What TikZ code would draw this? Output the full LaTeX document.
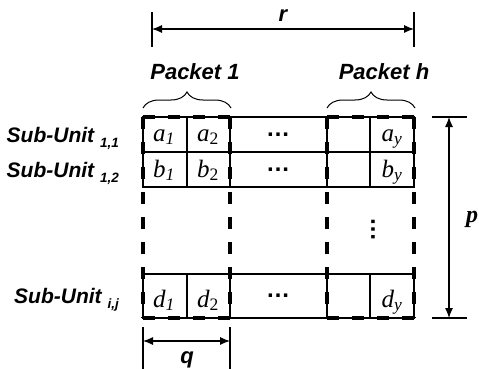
\documentclass[tikz,border=0pt]{standalone}
\usepackage{fontspec}
\setmainfont{Liberation Serif}
\newfontfamily\arialf{Liberation Sans}
\usetikzlibrary{arrows.meta,decorations.pathreplacing}
\begin{document}
\begin{tikzpicture}[x=1pt,y=-1pt,
  gridline/.style={line width=1.1pt},
  pkt/.style={line width=3.3pt, dash pattern=on 12pt off 13pt},
  dimline/.style={line width=1.1pt, {Latex[length=10pt,width=8pt]}-{Latex[length=10pt,width=8pt]}},
  tick/.style={line width=1.4pt},
  lbl/.style={inner sep=0pt, font=\arialf\bfseries\itshape\fontsize{22}{24}\selectfont},
  rowlbl/.style={inner sep=0pt, anchor=base east, font=\arialf\bfseries\itshape\fontsize{21}{24}\selectfont},
  cell/.style={inner sep=0pt, anchor=base, font=\itshape\fontsize{25}{28}\selectfont},
  dots/.style={inner sep=0pt, font=\arialf\bfseries\fontsize{24}{26}\selectfont},
  bracestyle/.style={line width=1pt, decorate, decoration={brace, amplitude=16pt}},
]
\useasboundingbox (0,0) rectangle (479,369);

% rows
\foreach \t/\b in {117/152,152/187,274/318}{
  \draw[gridline] (143,\t) rectangle (414,\b);
  \foreach \x in {187,230,327,370} \draw[gridline] (\x,\t) -- (\x,\b);
}

% packet boxes (thick dashed)
\foreach \l/\r in {143/230,327/414}{
  \draw[pkt] (\l,117) -- (\r,117);
  \draw[pkt] (\l,318) -- (\r,318);
  \draw[pkt] (\l,117) -- (\l,318);
  \draw[pkt] (\r,117) -- (\r,318);
}

% cell texts
\node[cell] (a1) at (164,141) {a\textsubscript{1}};
\node[cell] (a2) at (208,141) {a\textsubscript{\upshape 2}};
\node[cell] (ay) at (392,141) {a\textsubscript{y}};
\node[cell] (b1) at (164,177) {b\textsubscript{1}};
\node[cell] (b2) at (208,177) {b\textsubscript{\upshape 2}};
\node[cell] (by) at (392,177) {b\textsubscript{y}};
\node[cell] (d1) at (164,307) {d\textsubscript{1}};
\node[cell] (d2) at (208,307) {d\textsubscript{\upshape 2}};
\node[cell] (dy) at (392,307) {d\textsubscript{y}};

\node[dots] (ha) at (278,134.5) {…};
\node[dots] (hb) at (278,169.5) {…};
\node[dots] (hd) at (278,296) {…};
\node[dots, rotate=90] (vd) at (373,229) {…};

% row labels
\node[rowlbl] (s11) at (119,142) {Sub-Unit \raisebox{-5pt}{\fontsize{13.5}{15}\selectfont 1,1}};
\node[rowlbl] (s12) at (119,177) {Sub-Unit \raisebox{-5pt}{\fontsize{13.5}{15}\selectfont 1,2}};
\node[rowlbl] (sij) at (119,303) {Sub-Unit \raisebox{-5pt}{\fontsize{13.5}{15}\selectfont i,j}};

% packet labels and braces
\node[lbl] (p1) at (195,72) {Packet 1};
\node[lbl] (ph) at (384,72) {Packet h};
\coordinate (b1l) at (143,108);
\coordinate (b1r) at (231,108);
\coordinate (b2l) at (327,108);
\coordinate (b2r) at (415,108);
\draw[bracestyle] (b1l) -- (b1r);
\draw[bracestyle] (b2l) -- (b2r);

% r dimension
\coordinate (rl) at (152,29);
\coordinate (rr) at (414,29);
\draw[tick] (152,12) -- (152,47);
\draw[tick] (414,12) -- (414,47);
\draw[dimline] (rl) -- (rr);
\node[lbl] (r) at (283,16) {r};

% q dimension
\coordinate (ql) at (143,341);
\coordinate (qr) at (230,341);
\draw[tick] (143,327) -- (143,369);
\draw[tick] (230,327) -- (230,369);
\draw[dimline] (ql) -- (qr);
\node[lbl] (q) at (187,360) {q};

% p dimension
\coordinate (pt) at (449,117);
\coordinate (pb) at (449,318);
\draw[tick] (432,117) -- (467,117);
\draw[tick] (432,318) -- (467,318);
\draw[dimline] (pt) -- (pb);
\node[inner sep=0pt, font=\bfseries\itshape\fontsize{24}{26}\selectfont] (p) at (472,219) {p};
\end{tikzpicture}
\end{document}
